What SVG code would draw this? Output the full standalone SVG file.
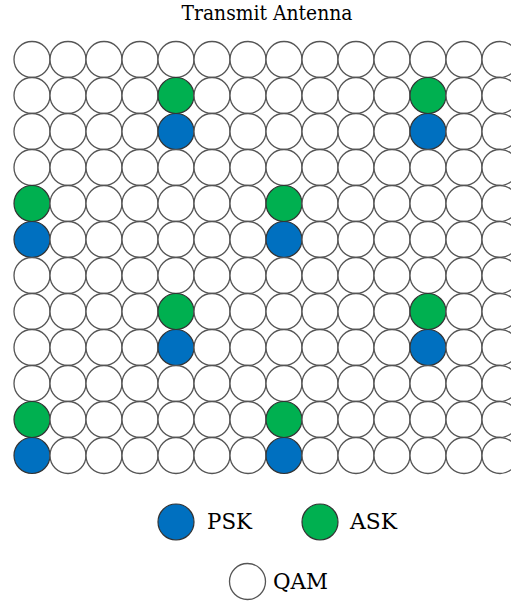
<svg xmlns="http://www.w3.org/2000/svg" width="511" height="603" viewBox="0 0 511 603">
<style>
.q{fill:#fff;stroke:#555;stroke-width:1.3}
.p{fill:#0070C0;stroke:#333;stroke-width:1.2}
.a{fill:#00B050;stroke:#333;stroke-width:1.2}
.t{font-family:'DejaVu Serif','Liberation Serif',serif;fill:#000}
</style>
<defs>
<circle id="c" r="18" cx="0" cy="0"/>
</defs>
<rect width="511" height="603" fill="#fff"/>
<text class="t" x="267" y="20" font-size="21" text-anchor="middle" textLength="171" lengthAdjust="spacingAndGlyphs">Transmit Antenna</text>
<g id="grid">
<g id="row0" transform="translate(0,59.5)">
<use href="#c" class="q" x="32"/><use href="#c" class="q" x="68"/><use href="#c" class="q" x="104"/><use href="#c" class="q" x="140"/><use href="#c" class="q" x="176"/><use href="#c" class="q" x="212"/><use href="#c" class="q" x="248"/><use href="#c" class="q" x="284"/><use href="#c" class="q" x="320"/><use href="#c" class="q" x="356"/><use href="#c" class="q" x="392"/><use href="#c" class="q" x="428"/><use href="#c" class="q" x="464"/><use href="#c" class="q" x="500"/>
</g>
<g id="row1" transform="translate(0,95.5)">
<use href="#c" class="q" x="32"/><use href="#c" class="q" x="68"/><use href="#c" class="q" x="104"/><use href="#c" class="q" x="140"/><use href="#c" class="a" x="176"/><use href="#c" class="q" x="212"/><use href="#c" class="q" x="248"/><use href="#c" class="q" x="284"/><use href="#c" class="q" x="320"/><use href="#c" class="q" x="356"/><use href="#c" class="q" x="392"/><use href="#c" class="a" x="428"/><use href="#c" class="q" x="464"/><use href="#c" class="q" x="500"/>
</g>
<g id="row2" transform="translate(0,131.5)">
<use href="#c" class="q" x="32"/><use href="#c" class="q" x="68"/><use href="#c" class="q" x="104"/><use href="#c" class="q" x="140"/><use href="#c" class="p" x="176"/><use href="#c" class="q" x="212"/><use href="#c" class="q" x="248"/><use href="#c" class="q" x="284"/><use href="#c" class="q" x="320"/><use href="#c" class="q" x="356"/><use href="#c" class="q" x="392"/><use href="#c" class="p" x="428"/><use href="#c" class="q" x="464"/><use href="#c" class="q" x="500"/>
</g>
<g id="row3" transform="translate(0,167.5)">
<use href="#c" class="q" x="32"/><use href="#c" class="q" x="68"/><use href="#c" class="q" x="104"/><use href="#c" class="q" x="140"/><use href="#c" class="q" x="176"/><use href="#c" class="q" x="212"/><use href="#c" class="q" x="248"/><use href="#c" class="q" x="284"/><use href="#c" class="q" x="320"/><use href="#c" class="q" x="356"/><use href="#c" class="q" x="392"/><use href="#c" class="q" x="428"/><use href="#c" class="q" x="464"/><use href="#c" class="q" x="500"/>
</g>
<g id="row4" transform="translate(0,203.5)">
<use href="#c" class="a" x="32"/><use href="#c" class="q" x="68"/><use href="#c" class="q" x="104"/><use href="#c" class="q" x="140"/><use href="#c" class="q" x="176"/><use href="#c" class="q" x="212"/><use href="#c" class="q" x="248"/><use href="#c" class="a" x="284"/><use href="#c" class="q" x="320"/><use href="#c" class="q" x="356"/><use href="#c" class="q" x="392"/><use href="#c" class="q" x="428"/><use href="#c" class="q" x="464"/><use href="#c" class="q" x="500"/>
</g>
<g id="row5" transform="translate(0,239.5)">
<use href="#c" class="p" x="32"/><use href="#c" class="q" x="68"/><use href="#c" class="q" x="104"/><use href="#c" class="q" x="140"/><use href="#c" class="q" x="176"/><use href="#c" class="q" x="212"/><use href="#c" class="q" x="248"/><use href="#c" class="p" x="284"/><use href="#c" class="q" x="320"/><use href="#c" class="q" x="356"/><use href="#c" class="q" x="392"/><use href="#c" class="q" x="428"/><use href="#c" class="q" x="464"/><use href="#c" class="q" x="500"/>
</g>
<g id="row6" transform="translate(0,275.5)">
<use href="#c" class="q" x="32"/><use href="#c" class="q" x="68"/><use href="#c" class="q" x="104"/><use href="#c" class="q" x="140"/><use href="#c" class="q" x="176"/><use href="#c" class="q" x="212"/><use href="#c" class="q" x="248"/><use href="#c" class="q" x="284"/><use href="#c" class="q" x="320"/><use href="#c" class="q" x="356"/><use href="#c" class="q" x="392"/><use href="#c" class="q" x="428"/><use href="#c" class="q" x="464"/><use href="#c" class="q" x="500"/>
</g>
<g id="row7" transform="translate(0,311.5)">
<use href="#c" class="q" x="32"/><use href="#c" class="q" x="68"/><use href="#c" class="q" x="104"/><use href="#c" class="q" x="140"/><use href="#c" class="a" x="176"/><use href="#c" class="q" x="212"/><use href="#c" class="q" x="248"/><use href="#c" class="q" x="284"/><use href="#c" class="q" x="320"/><use href="#c" class="q" x="356"/><use href="#c" class="q" x="392"/><use href="#c" class="a" x="428"/><use href="#c" class="q" x="464"/><use href="#c" class="q" x="500"/>
</g>
<g id="row8" transform="translate(0,347.5)">
<use href="#c" class="q" x="32"/><use href="#c" class="q" x="68"/><use href="#c" class="q" x="104"/><use href="#c" class="q" x="140"/><use href="#c" class="p" x="176"/><use href="#c" class="q" x="212"/><use href="#c" class="q" x="248"/><use href="#c" class="q" x="284"/><use href="#c" class="q" x="320"/><use href="#c" class="q" x="356"/><use href="#c" class="q" x="392"/><use href="#c" class="p" x="428"/><use href="#c" class="q" x="464"/><use href="#c" class="q" x="500"/>
</g>
<g id="row9" transform="translate(0,383.5)">
<use href="#c" class="q" x="32"/><use href="#c" class="q" x="68"/><use href="#c" class="q" x="104"/><use href="#c" class="q" x="140"/><use href="#c" class="q" x="176"/><use href="#c" class="q" x="212"/><use href="#c" class="q" x="248"/><use href="#c" class="q" x="284"/><use href="#c" class="q" x="320"/><use href="#c" class="q" x="356"/><use href="#c" class="q" x="392"/><use href="#c" class="q" x="428"/><use href="#c" class="q" x="464"/><use href="#c" class="q" x="500"/>
</g>
<g id="row10" transform="translate(0,419.5)">
<use href="#c" class="a" x="32"/><use href="#c" class="q" x="68"/><use href="#c" class="q" x="104"/><use href="#c" class="q" x="140"/><use href="#c" class="q" x="176"/><use href="#c" class="q" x="212"/><use href="#c" class="q" x="248"/><use href="#c" class="a" x="284"/><use href="#c" class="q" x="320"/><use href="#c" class="q" x="356"/><use href="#c" class="q" x="392"/><use href="#c" class="q" x="428"/><use href="#c" class="q" x="464"/><use href="#c" class="q" x="500"/>
</g>
<g id="row11" transform="translate(0,455.5)">
<use href="#c" class="p" x="32"/><use href="#c" class="q" x="68"/><use href="#c" class="q" x="104"/><use href="#c" class="q" x="140"/><use href="#c" class="q" x="176"/><use href="#c" class="q" x="212"/><use href="#c" class="q" x="248"/><use href="#c" class="p" x="284"/><use href="#c" class="q" x="320"/><use href="#c" class="q" x="356"/><use href="#c" class="q" x="392"/><use href="#c" class="q" x="428"/><use href="#c" class="q" x="464"/><use href="#c" class="q" x="500"/>
</g>
</g>
<g id="legend-psk">
<circle class="p" cx="176" cy="522" r="18"/>
<text class="t" x="207" y="529" font-size="22" textLength="45" lengthAdjust="spacingAndGlyphs">PSK</text>
</g>
<g id="legend-ask">
<circle class="a" cx="320" cy="522" r="18"/>
<text class="t" x="350" y="529" font-size="22" textLength="47" lengthAdjust="spacingAndGlyphs">ASK</text>
</g>
<g id="legend-qam">
<circle class="q" cx="247.5" cy="581.5" r="18"/>
<text class="t" x="273" y="589" font-size="22" textLength="55" lengthAdjust="spacingAndGlyphs">QAM</text>
</g>
</svg>
